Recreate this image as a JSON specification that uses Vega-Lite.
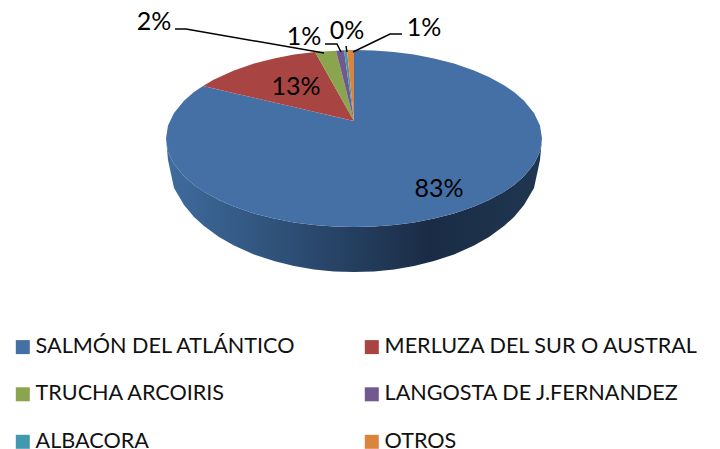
{
"$schema":"https://vega.github.io/schema/vega-lite/v6.json",
"width":720,"height":449,"padding":0,
"autosize":{"type":"fit","contains":"padding"},
"background":"#ffffff",
"config":{"view":{"stroke":null},"font":"Lato"},
"datasets":{
"side":[
{"x":166,"sup":138.5,"inf":138.5},{"x":168,"sup":151.4,"inf":160},{"x":174,"sup":164,"inf":188},{"x":184,"sup":176.3,"inf":205},{"x":194,"sup":185,"inf":217},{"x":204,"sup":191.8,"inf":226},{"x":219,"sup":200.1,"inf":237},{"x":234,"sup":206.6,"inf":245.6},{"x":254,"sup":213.4,"inf":254.4},{"x":274,"sup":218.6,"inf":261},{"x":294,"sup":222.4,"inf":266},{"x":314,"sup":225,"inf":269.4},{"x":334,"sup":226.5,"inf":271.4},{"x":354,"sup":227,"inf":272},{"x":374,"sup":226.5,"inf":271.4},{"x":394,"sup":225,"inf":269.4},{"x":414,"sup":222.4,"inf":266},{"x":434,"sup":218.6,"inf":261},{"x":454,"sup":213.4,"inf":254.4},{"x":474,"sup":206.6,"inf":245.6},{"x":489,"sup":200.1,"inf":237},{"x":504,"sup":191.8,"inf":226},{"x":514,"sup":185,"inf":217},{"x":524,"sup":176.3,"inf":205},{"x":534,"sup":164,"inf":188},{"x":540,"sup":151.4,"inf":160},{"x":542,"sup":138.5,"inf":138.5}
],
"slices":[
{"especie":"SALMÓN DEL ATLÁNTICO","x":166,"sup":138.5,"inf":138.5},{"especie":"SALMÓN DEL ATLÁNTICO","x":168,"sup":125.6,"inf":151.4},{"especie":"SALMÓN DEL ATLÁNTICO","x":174,"sup":113,"inf":164},{"especie":"SALMÓN DEL ATLÁNTICO","x":184,"sup":100.7,"inf":176.3},{"especie":"SALMÓN DEL ATLÁNTICO","x":194,"sup":92,"inf":185},{"especie":"SALMÓN DEL ATLÁNTICO","x":203,"sup":86,"inf":191.3},{"especie":"SALMÓN DEL ATLÁNTICO","x":219,"sup":89.7,"inf":200.1},{"especie":"SALMÓN DEL ATLÁNTICO","x":234,"sup":93.2,"inf":206.6},{"especie":"SALMÓN DEL ATLÁNTICO","x":254,"sup":97.8,"inf":213.4},{"especie":"SALMÓN DEL ATLÁNTICO","x":274,"sup":102.5,"inf":218.6},{"especie":"SALMÓN DEL ATLÁNTICO","x":294,"sup":107.1,"inf":222.4},{"especie":"SALMÓN DEL ATLÁNTICO","x":314,"sup":111.7,"inf":225},{"especie":"SALMÓN DEL ATLÁNTICO","x":334,"sup":116.4,"inf":226.5},{"especie":"SALMÓN DEL ATLÁNTICO","x":353.9,"sup":121,"inf":227},{"especie":"SALMÓN DEL ATLÁNTICO","x":354,"sup":50,"inf":227},{"especie":"SALMÓN DEL ATLÁNTICO","x":374,"sup":50.5,"inf":226.5},{"especie":"SALMÓN DEL ATLÁNTICO","x":394,"sup":52,"inf":225},{"especie":"SALMÓN DEL ATLÁNTICO","x":414,"sup":54.6,"inf":222.4},{"especie":"SALMÓN DEL ATLÁNTICO","x":434,"sup":58.4,"inf":218.6},{"especie":"SALMÓN DEL ATLÁNTICO","x":454,"sup":63.6,"inf":213.4},{"especie":"SALMÓN DEL ATLÁNTICO","x":474,"sup":70.4,"inf":206.6},{"especie":"SALMÓN DEL ATLÁNTICO","x":489,"sup":76.9,"inf":200.1},{"especie":"SALMÓN DEL ATLÁNTICO","x":504,"sup":85.2,"inf":191.8},{"especie":"SALMÓN DEL ATLÁNTICO","x":514,"sup":92,"inf":185},{"especie":"SALMÓN DEL ATLÁNTICO","x":524,"sup":100.7,"inf":176.3},{"especie":"SALMÓN DEL ATLÁNTICO","x":534,"sup":113,"inf":164},{"especie":"SALMÓN DEL ATLÁNTICO","x":540,"sup":125.6,"inf":151.4},{"especie":"SALMÓN DEL ATLÁNTICO","x":542,"sup":138.5,"inf":138.5},
{"especie":"MERLUZA DEL SUR O AUSTRAL","x":203,"sup":86,"inf":86},{"especie":"MERLUZA DEL SUR O AUSTRAL","x":214,"sup":79.4,"inf":88.5},{"especie":"MERLUZA DEL SUR O AUSTRAL","x":234,"sup":70.4,"inf":93.2},{"especie":"MERLUZA DEL SUR O AUSTRAL","x":254,"sup":63.6,"inf":97.8},{"especie":"MERLUZA DEL SUR O AUSTRAL","x":274,"sup":58.4,"inf":102.5},{"especie":"MERLUZA DEL SUR O AUSTRAL","x":294,"sup":54.6,"inf":107.1},{"especie":"MERLUZA DEL SUR O AUSTRAL","x":315,"sup":52,"inf":112},{"especie":"MERLUZA DEL SUR O AUSTRAL","x":354,"sup":121,"inf":121},
{"especie":"TRUCHA ARCOIRIS","x":315,"sup":52,"inf":52},{"especie":"TRUCHA ARCOIRIS","x":336,"sup":50.7,"inf":89.2},{"especie":"TRUCHA ARCOIRIS","x":354,"sup":121,"inf":121},
{"especie":"LANGOSTA DE J.FERNANDEZ","x":336,"sup":50.7,"inf":50.7},{"especie":"LANGOSTA DE J.FERNANDEZ","x":344,"sup":50.2,"inf":81.9},{"especie":"LANGOSTA DE J.FERNANDEZ","x":354,"sup":121,"inf":121},
{"especie":"ALBACORA","x":344,"sup":50.2,"inf":50.2},{"especie":"ALBACORA","x":347,"sup":50.1,"inf":71.4},{"especie":"ALBACORA","x":354,"sup":121,"inf":121},
{"especie":"OTROS","x":347,"sup":50.1,"inf":50.1},{"especie":"OTROS","x":354,"sup":50,"inf":121}
],
"leaders":[
{"linea":"trucha","i":0,"x":175,"y":29},{"linea":"trucha","i":1,"x":186,"y":29},{"linea":"trucha","i":2,"x":324,"y":53},
{"linea":"langosta","i":0,"x":325,"y":44},{"linea":"langosta","i":1,"x":337,"y":44},{"linea":"langosta","i":2,"x":341,"y":52},
{"linea":"albacora","i":0,"x":346,"y":46},{"linea":"albacora","i":1,"x":347,"y":52},
{"linea":"otros","i":0,"x":402,"y":34},{"linea":"otros","i":1,"x":390,"y":34},{"linea":"otros","i":2,"x":353,"y":52}
],
"labels":[
{"especie":"SALMÓN DEL ATLÁNTICO","porcentaje":"83%","x":439,"y":189},
{"especie":"MERLUZA DEL SUR O AUSTRAL","porcentaje":"13%","x":296,"y":87},
{"especie":"TRUCHA ARCOIRIS","porcentaje":"2%","x":154,"y":22},
{"especie":"LANGOSTA DE J.FERNANDEZ","porcentaje":"1%","x":304,"y":37},
{"especie":"ALBACORA","porcentaje":"0%","x":347,"y":31},
{"especie":"OTROS","porcentaje":"1%","x":424,"y":28}
]
},
"layer":[
{"data":{"name":"side"},
 "mark":{"type":"area","fill":{"gradient":"linear","x1":0,"y1":0,"x2":1,"y2":0,"stops":[{"offset":0,"color":"#3f6c9e"},{"offset":0.3,"color":"#2f5179"},{"offset":0.7,"color":"#1a2c45"},{"offset":1,"color":"#203650"}]}},
 "encoding":{"x":{"field":"x","type":"quantitative","scale":{"domain":[0,720],"nice":false},"axis":null},"y":{"field":"sup","type":"quantitative","scale":{"domain":[449,0],"nice":false},"axis":null},"y2":{"field":"inf"}}},
{"data":{"name":"slices"},
 "mark":{"type":"area"},
 "encoding":{"x":{"field":"x","type":"quantitative","scale":{"domain":[0,720],"nice":false},"axis":null},"y":{"field":"sup","type":"quantitative","scale":{"domain":[449,0],"nice":false},"axis":null},"y2":{"field":"inf"},
 "color":{"field":"especie","type":"nominal","title":null,
  "scale":{"domain":["SALMÓN DEL ATLÁNTICO","TRUCHA ARCOIRIS","ALBACORA","MERLUZA DEL SUR O AUSTRAL","LANGOSTA DE J.FERNANDEZ","OTROS"],"range":["#4470a6","#8aa54e","#4198af","#a84543","#71588f","#db843d"]},
  "legend":{"orient":"none","legendX":12,"legendY":336,"padding":0,"columns":2,"columnPadding":65,"rowPadding":24.5,"symbolType":"square","symbolSize":196,"symbolStrokeWidth":0,"symbolOpacity":1,"labelFont":"Lato","labelFontSize":21.6,"labelColor":"#111111","labelOffset":2,"labelLimit":400}}}},
{"data":{"name":"leaders"},
 "mark":{"type":"line","color":"#000000","strokeWidth":1.5},
 "encoding":{"x":{"field":"x","type":"quantitative","scale":{"domain":[0,720],"nice":false}},"y":{"field":"y","type":"quantitative","scale":{"domain":[449,0],"nice":false}},"detail":{"field":"linea"},"order":{"field":"i","type":"quantitative"}}},
{"data":{"name":"labels"},
 "mark":{"type":"text","font":"Lato","fontSize":25,"color":"#000000","align":"center","baseline":"middle"},
 "encoding":{"x":{"field":"x","type":"quantitative","scale":{"domain":[0,720],"nice":false}},"y":{"field":"y","type":"quantitative","scale":{"domain":[449,0],"nice":false}},"text":{"field":"porcentaje"}}}
]
}
